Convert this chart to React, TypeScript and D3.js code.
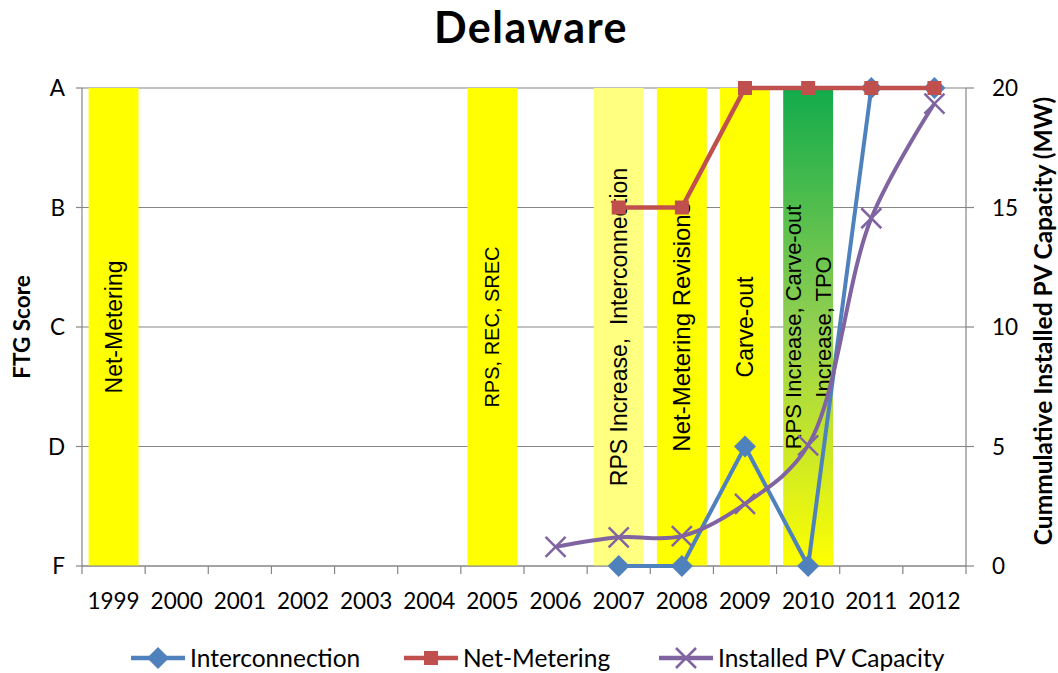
import React from 'react';
import * as d3 from 'd3';

// Categories and series
const years = ['1999', '2000', '2001', '2002', '2003', '2004', '2005', '2006', '2007', '2008', '2009', '2010', '2011', '2012'];
const gradeLabels = ['F', 'D', 'C', 'B', 'A'];
const capacityTicks = [0, 5, 10, 15, 20];

const interconnectionGrades: (string | null)[] = [null, null, null, null, null, null, null, null, 'F', 'F', 'D', 'F', 'A', 'A'];
const netMeteringGrades: (string | null)[] = [null, null, null, null, null, null, null, null, 'B', 'B', 'A', 'A', 'A', 'A'];
const installedCapacityMW: (number | null)[] = [null, null, null, null, null, null, null, 0.8, 1.2, 1.25, 2.6, 5.05, 14.55, 19.35];

// Policy events shown as full-height columns
const eventYears = ['1999', '2005', '2007', '2008', '2009', '2010'];
const eventLabels = [
  ['Net-Metering'],
  ['RPS, REC, SREC'],
  ['RPS Increase,  Interconnection'],
  ['Net-Metering Revisions'],
  ['Carve-out'],
  ['RPS Increase, Carve-out', 'Increase, TPO'],
];

const FONT = 'Lato, "Open Sans", sans-serif';
const LABEL_FONT = '"Liberation Sans", Arial, sans-serif';
const BLUE = '#4f81bd';
const RED = '#c0504d';
const PURPLE = '#8064a2';
const GRID = '#868686';

const eventFill: Record<string, string> = {
  '2007': '#ffff80',
  '2010': 'url(#greenToYellow)',
};
const eventFontSize: Record<string, number> = {
  '1999': 23,
  '2005': 20,
  '2007': 23,
  '2008': 24,
  '2009': 23,
  '2010': 22,
};

const W = 1058;
const H = 673;
const left = 82;
const right = 966;
const top = 88;
const bottom = 566;

const x = d3.scaleBand<string>().domain(years).range([left, right]).padding(0);
const gradeY = d3.scaleLinear().domain([0, gradeLabels.length - 1]).range([bottom, top]);
const capY = d3.scaleLinear().domain([0, 20]).range([bottom, top]);
const cx = (yr: string) => (x(yr) as number) + x.bandwidth() / 2;
const midY = (top + bottom) / 2;
const barW = x.bandwidth() * 0.79;

type Pt = { yr: string; v: number };

const gradePoints = (grades: (string | null)[]): Pt[] =>
  grades
    .map((g, i) => (g == null ? null : { yr: years[i], v: gradeLabels.indexOf(g) }))
    .filter((p): p is Pt => p !== null);

const interPts = gradePoints(interconnectionGrades);
const netPts = gradePoints(netMeteringGrades);
const capPts: Pt[] = installedCapacityMW
  .map((v, i) => (v == null ? null : { yr: years[i], v }))
  .filter((p): p is Pt => p !== null);

const gradeLine = d3.line<Pt>().x((d) => cx(d.yr)).y((d) => gradeY(d.v));
const capLine = d3
  .line<Pt>()
  .x((d) => cx(d.yr))
  .y((d) => capY(d.v))
  .curve(d3.curveCatmullRom.alpha(0.5));

const Diamond = ({ px, py }: { px: number; py: number }) => (
  <path d={`M${px},${py - 11}L${px + 11},${py}L${px},${py + 11}L${px - 11},${py}Z`} fill={BLUE} />
);
const Square = ({ px, py }: { px: number; py: number }) => (
  <rect x={px - 7} y={py - 7} width={14} height={14} fill={RED} />
);
const Cross = ({ px, py }: { px: number; py: number }) => (
  <path
    d={`M${px - 10},${py - 10}L${px + 10},${py + 10}M${px - 10},${py + 10}L${px + 10},${py - 10}`}
    stroke={PURPLE}
    strokeWidth={2.5}
    fill="none"
  />
);

const legendItems = [
  { x0: 131, label: 'Interconnection', color: BLUE, Marker: Diamond },
  { x0: 404, label: 'Net-Metering', color: RED, Marker: Square },
  { x0: 659, label: 'Installed PV Capacity', color: PURPLE, Marker: Cross },
];

export default function App() {
  return (
    <svg
      width={W}
      height={H}
      style={{ position: 'absolute', left: 0, top: 0, background: '#fff' }}
      fontFamily={FONT}
    >
      <defs>
        <linearGradient id="greenToYellow" x1="0" y1="0" x2="0" y2="1">
          <stop offset="0" stopColor="#12ab4b" />
          <stop offset="0.5" stopColor="#92d050" />
          <stop offset="1" stopColor="#ffff00" />
        </linearGradient>
      </defs>
      <rect x={0} y={0} width={W} height={H} fill="#fff" />

      {/* title */}
      <text x={531} y={43} textAnchor="middle" fontSize={43} fontWeight={700} letterSpacing={1.5} fill="#000">
        Delaware
      </text>

      {/* horizontal gridlines */}
      {gradeLabels.map((g, i) => (
        <line key={g} x1={left} x2={right} y1={gradeY(i)} y2={gradeY(i)} stroke={GRID} strokeWidth={1.2} />
      ))}

      {/* policy event columns */}
      {eventYears.map((yr) => (
        <rect
          key={yr}
          x={cx(yr) - barW / 2}
          y={top}
          width={barW}
          height={bottom - top}
          fill={eventFill[yr] ?? '#ffff00'}
        />
      ))}

      {/* event labels */}
      {eventYears.map((yr, i) => {
        const lines = eventLabels[i];
        const n = lines.length;
        const fs = eventFontSize[yr] ?? 23;
        return (
          <text
            key={yr}
            transform={`translate(${cx(yr)},${midY}) rotate(-90)`}
            textAnchor="middle"
            fontFamily={LABEL_FONT}
            fontSize={fs}
            fill="#000"
            style={{ whiteSpace: 'pre' }}
          >
            {lines.map((ln, j) => (
              <tspan key={j} x={0} y={(j - (n - 1) / 2) * 30 + fs * 0.35}>
                {ln}
              </tspan>
            ))}
          </text>
        );
      })}

      {/* axes */}
      <line x1={left} x2={left} y1={top} y2={bottom} stroke={GRID} strokeWidth={1.2} />
      <line x1={right} x2={right} y1={top} y2={bottom} stroke={GRID} strokeWidth={1.2} />
      <line x1={left} x2={right} y1={bottom} y2={bottom} stroke={GRID} strokeWidth={1.2} />
      {years.map((yr) => (
        <line key={yr} x1={x(yr)} x2={x(yr)} y1={bottom} y2={bottom + 8} stroke={GRID} strokeWidth={1.2} />
      ))}
      <line x1={right} x2={right} y1={bottom} y2={bottom + 8} stroke={GRID} strokeWidth={1.2} />
      {gradeLabels.map((g, i) => (
        <g key={g}>
          <line x1={left - 6} x2={left} y1={gradeY(i)} y2={gradeY(i)} stroke={GRID} strokeWidth={1.2} />
          <text x={65} y={gradeY(i)} dy="0.36em" textAnchor="end" fontSize={22.5} fill="#000">
            {g}
          </text>
        </g>
      ))}
      {capacityTicks.map((t) => (
        <g key={t}>
          <line x1={right} x2={right + 8} y1={capY(t)} y2={capY(t)} stroke={GRID} strokeWidth={1.2} />
          <text x={992} y={capY(t)} dy="0.36em" textAnchor="start" fontSize={22.5} fill="#000">
            {t}
          </text>
        </g>
      ))}
      {years.map((yr) => (
        <text key={yr} x={cx(yr)} y={609} textAnchor="middle" fontSize={22.5} fill="#000">
          {yr}
        </text>
      ))}

      {/* axis titles */}
      <text transform={`translate(30,${midY}) rotate(-90)`} textAnchor="middle" fontSize={22.5} fontWeight={700}>
        FTG Score
      </text>
      <text transform={`translate(1052,${midY - 6}) rotate(-90)`} textAnchor="middle" fontSize={24.5} fontWeight={700}>
        Cummulative Installed PV Capacity (MW)
      </text>

      {/* series */}
      <path d={gradeLine(interPts) ?? ''} fill="none" stroke={BLUE} strokeWidth={4} strokeLinejoin="round" />
      {interPts.map((p) => (
        <Diamond key={p.yr} px={cx(p.yr)} py={gradeY(p.v)} />
      ))}
      <path d={gradeLine(netPts) ?? ''} fill="none" stroke={RED} strokeWidth={4.5} strokeLinejoin="round" />
      {netPts.map((p) => (
        <Square key={p.yr} px={cx(p.yr)} py={gradeY(p.v)} />
      ))}
      <path d={capLine(capPts) ?? ''} fill="none" stroke={PURPLE} strokeWidth={4} strokeLinejoin="round" />
      {capPts.map((p) => (
        <Cross key={p.yr} px={cx(p.yr)} py={capY(p.v)} />
      ))}

      {/* legend */}
      {legendItems.map(({ x0, label, color, Marker }) => (
        <g key={label}>
          <line x1={x0} x2={x0 + 54} y1={658} y2={658} stroke={color} strokeWidth={4.5} />
          <Marker px={x0 + 27} py={658} />
          <text x={x0 + 59} y={658} dy="0.36em" fontSize={24.5} fill="#000">
            {label}
          </text>
        </g>
      ))}
    </svg>
  );
}
